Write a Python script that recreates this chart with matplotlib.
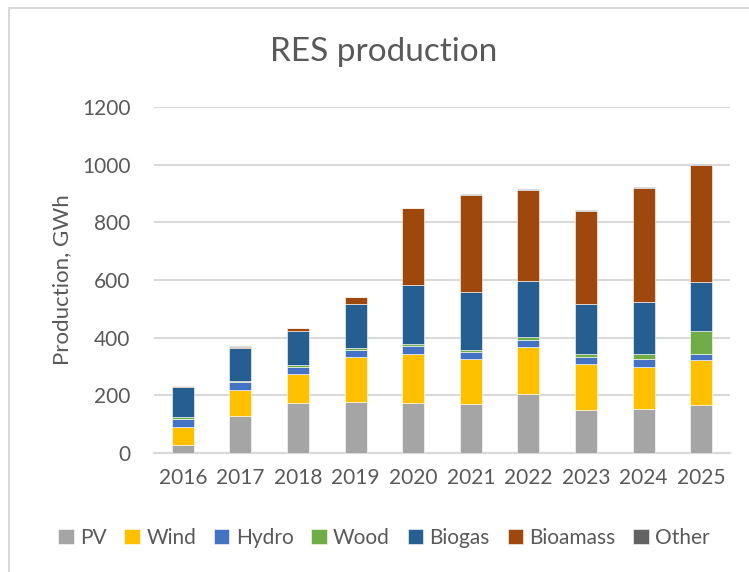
import matplotlib.pyplot as plt
from matplotlib.patches import Rectangle

years = ['2016', '2017', '2018', '2019', '2020', '2021', '2022', '2023', '2024', '2025']
pv = [27, 128, 173, 178, 172, 170, 205, 150, 153, 165]
wind = [63, 89, 101, 155, 172, 155, 161, 157, 145, 156]
hydro = [28, 29, 24, 24, 27, 26, 27, 25, 27, 23]
wood = [6, 5, 7, 6, 6, 5, 8, 10, 17, 78]
biogas = [105, 114, 119, 155, 206, 204, 197, 176, 182, 172]
bioamass = [4, 4, 8, 22, 265, 333, 315, 321, 396, 404]
other = [1, 1, 3, 1, 3, 4, 2, 4, 2, 4]

series = [('PV', pv, '#a5a5a5'), ('Wind', wind, '#ffc000'), ('Hydro', hydro, '#4472c4'),
          ('Wood', wood, '#70ad47'), ('Biogas', biogas, '#255e91'),
          ('Bioamass', bioamass, '#9e480e'), ('Other', other, '#636363')]

txt = '#595959'
plt.rcParams['font.family'] = ['Lato', 'DejaVu Sans']

fig = plt.figure(figsize=(7.49, 5.72), dpi=100)
ax = fig.add_axes([0.2056, 0.208, 0.769, 0.605])

x = range(len(years))
bottom = [0] * len(years)
for name, vals, col in series:
    ax.bar(x, vals, 0.38, bottom=bottom, color=col, label=name,
           edgecolor='white', linewidth=0.4, zorder=3)
    bottom = [b + v for b, v in zip(bottom, vals)]

ax.set_ylim(0, 1200)
ax.set_xlim(-0.5, len(years) - 0.5)
ax.set_yticks(range(0, 1201, 200))
ax.set_xticks(list(x))
ax.set_xticklabels(years)
ax.grid(axis='y', color='#d9d9d9', linewidth=1.5, zorder=0)
for s in ['top', 'right', 'left']:
    ax.spines[s].set_visible(False)
ax.spines['bottom'].set_color('#d9d9d9')
ax.spines['bottom'].set_linewidth(1.5)
ax.tick_params(axis='both', length=0, labelsize=15, labelcolor=txt)
ax.tick_params(axis='y', pad=17)
ax.tick_params(axis='x', pad=11)
ax.set_ylabel('Production, GWh', fontsize=16, color=txt)
ax.yaxis.set_label_coords(-0.142, 0.5)

fig.text(384 / 749, 1 - 52 / 572, 'RES production', ha='center', va='center',
         fontsize=24, color=txt)

fig.legend(loc='center', bbox_to_anchor=(384 / 749, 1 - 538 / 572), ncol=7,
           frameon=False, fontsize=15, labelcolor=txt, handlelength=0.75,
           handleheight=0.75, handletextpad=0.3, columnspacing=0.85)

fig.patches.append(Rectangle((9 / 749, -0.1), 1.2, 1 - 8 / 572 + 0.1,
                             transform=fig.transFigure, fill=False,
                             edgecolor='#d9d9d9', linewidth=1.5))

fig.savefig('out.png', dpi=100)
